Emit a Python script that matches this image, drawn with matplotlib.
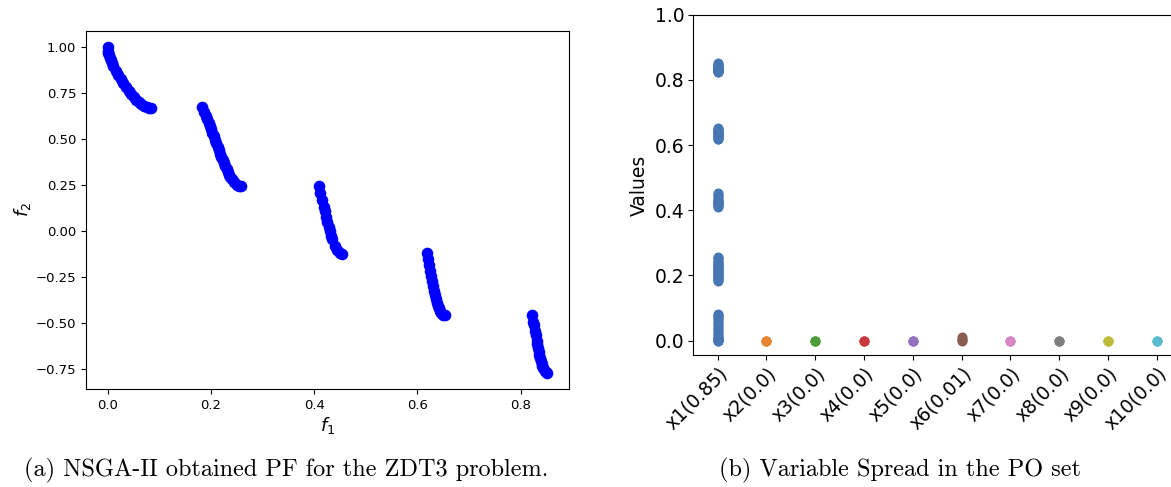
import matplotlib
matplotlib.use("Agg")
import matplotlib.pyplot as plt

# Pareto front (five disconnected pieces of ZDT3)
f1 = [0.000, 0.0005, 0.001, 0.002, 0.0035, 0.005, 0.0075, 0.010, 0.015, 0.020,
      0.025, 0.030, 0.035, 0.040, 0.045, 0.050, 0.055, 0.060, 0.065, 0.070,
      0.075, 0.080, 0.083,
      0.182, 0.186, 0.190, 0.1925, 0.195, 0.1975, 0.200, 0.2025, 0.205, 0.2075,
      0.210, 0.2125, 0.215, 0.2175, 0.220, 0.2225, 0.225, 0.2275, 0.230, 0.2325,
      0.235, 0.2375, 0.240, 0.245, 0.250, 0.255, 0.258,
      0.409, 0.412, 0.415, 0.418, 0.420, 0.423, 0.425, 0.428, 0.430, 0.433,
      0.435, 0.440, 0.445, 0.450, 0.454,
      0.618, 0.620, 0.622, 0.624, 0.626, 0.628, 0.630, 0.632, 0.634, 0.636,
      0.638, 0.640, 0.642, 0.644, 0.646, 0.650, 0.653,
      0.823, 0.825, 0.826, 0.828, 0.829, 0.831, 0.832, 0.8335, 0.835, 0.8365,
      0.838, 0.8395, 0.841, 0.8425, 0.844, 0.847, 0.850, 0.852]
f2 = [1.000, 0.978, 0.968, 0.955, 0.940, 0.929, 0.912, 0.897, 0.871, 0.847,
      0.824, 0.803, 0.782, 0.762, 0.743, 0.726, 0.711, 0.698, 0.687, 0.679,
      0.673, 0.670, 0.670,
      0.671, 0.648, 0.623, 0.606, 0.589, 0.571, 0.553, 0.534, 0.515, 0.496,
      0.477, 0.458, 0.439, 0.420, 0.402, 0.384, 0.367, 0.350, 0.334, 0.320,
      0.306, 0.293, 0.282, 0.263, 0.250, 0.243, 0.242,
      0.242, 0.205, 0.167, 0.130, 0.105, 0.074, 0.048, 0.018, -0.004, -0.030,
      -0.047, -0.082, -0.107, -0.121, -0.124,
      -0.123, -0.154, -0.185, -0.217, -0.248, -0.276, -0.303, -0.329, -0.352, -0.373,
      -0.392, -0.409, -0.423, -0.435, -0.445, -0.456, -0.458,
      -0.458, -0.494, -0.511, -0.547, -0.565, -0.599, -0.615, -0.637, -0.658, -0.677,
      -0.695, -0.710, -0.725, -0.737, -0.748, -0.764, -0.771, -0.773]

# decision variables of the PO set
var_labels = ["x1(0.85)", "x2(0.0)", "x3(0.0)", "x4(0.0)", "x5(0.0)",
              "x6(0.01)", "x7(0.0)", "x8(0.0)", "x9(0.0)", "x10(0.0)"]
x1_vals = f1  # for ZDT3, f1 is x1
x2_vals = [0.0, 0.0, 0.0]
x3_vals = [0.0, 0.0, 0.0]
x4_vals = [0.0, 0.0, 0.0]
x5_vals = [0.0, 0.0, 0.0]
x6_vals = [0.0, 0.003, 0.006, 0.01]
x7_vals = [0.0, 0.0, 0.0]
x8_vals = [0.0, 0.0, 0.0]
x9_vals = [0.0, 0.0, 0.0]
x10_vals = [0.0, 0.0, 0.0]
all_vals = [x1_vals, x2_vals, x3_vals, x4_vals, x5_vals,
            x6_vals, x7_vals, x8_vals, x9_vals, x10_vals]
colors = ['#4677b3', '#e8832f', '#4d9e3b', '#c63a3b', '#9370c0',
          '#8b5a50', '#d886c4', '#7f7f7f', '#bcbc3a', '#5bbcd0']

fig = plt.figure(figsize=(11.71, 4.87), dpi=100)

# (a) Pareto front
ax1 = fig.add_axes([0.0734, 0.201, 0.4128, 0.736])
ax1.scatter(f1, f2, color='blue', s=70, linewidths=0)
ax1.set_xlabel('$f_1$', fontsize=13, labelpad=2)
ax1.set_ylabel('$f_2$', fontsize=13, labelpad=2)
ax1.set_yticks([1.0, 0.75, 0.5, 0.25, 0.0, -0.25, -0.5, -0.75])
ax1.tick_params(labelsize=9.5)

# (b) variable spread, strip plot without jitter
ax2 = fig.add_axes([0.592, 0.271, 0.4168, 0.6987])
for i, vals in enumerate(all_vals):
    ax2.scatter([i] * len(vals), vals, color=colors[i], s=52, linewidths=0, zorder=3)
ax2.set_xlim(-0.5, 9.5)
ax2.set_ylim(-0.044, 1.0)
ax2.set_xticks(range(len(var_labels)))
ax2.set_xticklabels(var_labels, rotation=45, ha='right', rotation_mode='anchor')
ax2.set_yticks([0.0, 0.2, 0.4, 0.6, 0.8, 1.0])
ax2.set_ylabel('Values', fontsize=13.5)
ax2.tick_params(labelsize=13.5, pad=3)

# captions
fig.text(0.244, 0.022, '(a) NSGA-II obtained PF for the ZDT3 problem.',
         family='cmr10', fontsize=17.5, ha='center', va='baseline')
fig.text(0.769, 0.022, '(b) Variable Spread in the PO set',
         family='cmr10', fontsize=17.5, ha='center', va='baseline')

fig.savefig('out.png', dpi=100)
